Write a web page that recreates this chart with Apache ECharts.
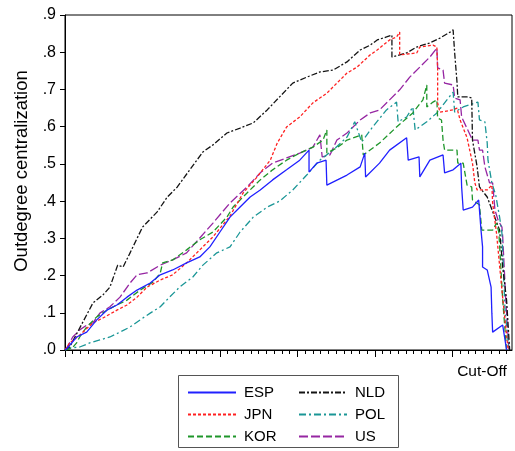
<!DOCTYPE html>
<html>
<head>
<meta charset="utf-8">
<script src="https://cdn.jsdelivr.net/npm/echarts@6/dist/echarts.min.js"></script>
<style>
html,body{margin:0;padding:0;background:#fff;}
#c{width:515px;height:451px;}
</style>
</head>
<body>
<div id="c"></div>
<script>
// ---- data (x = cut-off index, y = outdegree centralization) ----
const ESP = [[0,0],[3,.005],[15,.035],[28,.048],[41,.081],[54,.107],[67,.121],[80,.142],[93,.161],[110,.180],[123,.202],[139,.215],[157,.234],[174,.250],[187,.277],[200,.317],[213,.357],[226,.384],[239,.411],[252,.430],[268,.457],[286,.484],[303,.510],[315,.537],[315,.478],[325,.502],[337,.510],[338,.443],[364,.470],[381,.492],[387,.529],[388,.465],[406,.502],[419,.537],[441,.570],[443,.510],[457,.519],[458,.465],[471,.510],[488,.524],[490,.476],[501,.484],[511,.502],[512,.438],[514,.376],[526,.384],[534,.403],[537,.322],[539,.277],[539,.223],[545,.215],[550,.169],[551,.099],[552,.048],[565,.067],[570,0]];
const JPN = [[0,0],[6,.019],[19,.040],[36,.073],[49,.086],[67,.107],[80,.121],[93,.142],[106,.169],[123,.188],[139,.202],[157,.234],[174,.269],[191,.304],[213,.360],[230,.422],[248,.465],[265,.510],[274,.556],[286,.599],[303,.626],[320,.664],[338,.690],[351,.717],[364,.744],[377,.760],[394,.793],[403,.806],[419,.833],[428,.841],[432,.854],[432,.793],[454,.798],[458,.814],[475,.819],[480,.814],[481,.758],[481,.664],[484,.639],[501,.645],[506,.650],[510,.618],[519,.570],[526,.502],[529,.449],[532,.430],[545,.430],[551,.443],[552,.395],[557,.314],[564,.161],[572,0]];
const KOR = [[0,0],[9,.005],[15,.019],[19,.035],[28,.062],[41,.089],[54,.107],[67,.121],[80,.134],[97,.161],[114,.183],[123,.207],[126,.234],[139,.242],[157,.269],[174,.296],[191,.317],[209,.357],[217,.384],[235,.422],[252,.457],[268,.484],[286,.510],[303,.529],[320,.545],[333,.564],[338,.591],[338,.529],[351,.543],[364,.564],[383,.578],[385,.524],[406,.556],[428,.599],[449,.637],[462,.672],[467,.712],[467,.653],[475,.666],[480,.672],[481,.623],[486,.618],[488,.564],[490,.537],[506,.537],[507,.502],[514,.502],[519,.443],[525,.438],[526,.403],[535,.390],[538,.322],[552,.322],[557,.341],[560,.317],[565,.134],[570,0]];
const NLD = [[0,0],[6,.008],[36,.126],[49,.148],[58,.169],[68,.228],[75,.223],[84,.261],[100,.330],[119,.371],[132,.411],[145,.438],[161,.484],[178,.532],[191,.551],[209,.583],[226,.596],[243,.610],[261,.645],[277,.680],[294,.717],[312,.733],[329,.747],[346,.752],[364,.774],[381,.806],[394,.819],[403,.833],[415,.841],[422,.846],[422,.787],[441,.798],[454,.814],[471,.825],[484,.838],[497,.854],[501,.860],[503,.798],[506,.720],[507,.680],[519,.680],[525,.677],[526,.564],[532,.492],[535,.438],[545,.411],[561,.322],[565,.223],[570,.134],[574,0]];
const POL = [[0,0],[3,.005],[19,.008],[32,.019],[45,.027],[58,.035],[71,.048],[84,.062],[97,.081],[110,.099],[123,.116],[135,.142],[148,.169],[165,.196],[178,.228],[196,.261],[213,.277],[226,.317],[243,.357],[261,.384],[277,.400],[294,.430],[312,.470],[329,.510],[346,.537],[364,.572],[374,.613],[383,.559],[397,.599],[415,.645],[428,.666],[430,.613],[441,.626],[449,.653],[452,.591],[467,.613],[480,.637],[493,.672],[501,.693],[503,.639],[514,.653],[533,.666],[535,.618],[542,.613],[545,.556],[546,.510],[551,.449],[556,.416],[561,.357],[564,.314],[568,.107],[573,0]];
const US = [[0,0],[3,.008],[10,.035],[19,.054],[28,.067],[36,.073],[45,.099],[58,.116],[71,.142],[84,.180],[93,.202],[106,.207],[123,.228],[139,.242],[157,.261],[174,.301],[191,.341],[213,.395],[235,.438],[252,.476],[268,.502],[286,.516],[303,.529],[320,.545],[329,.578],[332,.519],[342,.524],[351,.564],[364,.583],[381,.618],[394,.637],[406,.645],[419,.672],[432,.699],[445,.733],[458,.760],[471,.787],[480,.811],[481,.758],[488,.752],[490,.717],[501,.712],[503,.677],[510,.672],[512,.626],[514,.623],[526,.564],[533,.564],[535,.537],[539,.537],[542,.492],[548,.449],[552,.449],[555,.376],[559,.349],[564,.330],[565,.304],[569,.134],[573,0]];

const yTickLabels = ['.0','.1','.2','.3','.4','.5','.6','.7','.8','.9'];
const xMajorTicks = [0,100,200,300,400,500];
const xMinorTicks = [];
for (let v = 10; v <= 570; v += 10) if (v % 100 !== 0) xMinorTicks.push(v);

const FONT = 'Liberation Sans, Arial, Helvetica, sans-serif';
const XMAX = 577;

function mk(name, data, color, dash, z) {
  return {
    name, type: 'line', data, symbol: 'none', z: z,
    xAxisIndex: 0, yAxisIndex: 0,
    lineStyle: { color, width: 1.3, type: dash },
    itemStyle: { color },
    emphasis: { disabled: true },
    animation: false
  };
}

const legendBase = {
  orient: 'vertical', top: 385, padding: 0, itemGap: 7,
  itemWidth: 48, itemHeight: 14,
  itemStyle: { opacity: 0 },
  textStyle: { fontSize: 15, color: '#000', fontFamily: FONT, padding: [0, 0, 0, 3] },
  selectedMode: false
};

const chart = echarts.init(document.getElementById('c'), null, { renderer: 'canvas' });
chart.setOption({
  backgroundColor: '#fff',
  animation: false,
  textStyle: { fontFamily: FONT },
  grid: { left: 65, top: 15, width: 447, height: 335, show: true, borderColor: '#000', borderWidth: 1, backgroundColor: 'transparent' },
  xAxis: [
    {
      type: 'value', min: 0, max: XMAX, gridIndex: 0, position: 'bottom',
      axisLine: { show: true, lineStyle: { color: '#000', width: 1 } },
      axisTick: { show: true, inside: false, length: 7, customValues: xMajorTicks, lineStyle: { color: '#000' } },
      axisLabel: { show: false },
      splitLine: { show: false },
      minorTick: { show: false }
    },
    {
      type: 'value', min: 0, max: XMAX, gridIndex: 0, position: 'bottom',
      axisLine: { show: false },
      axisTick: { show: true, inside: false, length: 4, customValues: xMinorTicks, lineStyle: { color: '#000' } },
      axisLabel: { show: false },
      splitLine: { show: false }
    }
  ],
  yAxis: {
    type: 'value', min: 0, max: 0.9, interval: 0.1,
    axisLine: { show: true, lineStyle: { color: '#000', width: 1 } },
    axisTick: { show: true, inside: false, length: 5, lineStyle: { color: '#000' } },
    axisLabel: {
      margin: 9, color: '#000', fontSize: 16, fontFamily: FONT,
      formatter: v => yTickLabels[Math.round(v * 10)]
    },
    splitLine: { show: false }
  },
  legend: [
    Object.assign({}, legendBase, { left: 187, data: ['ESP', 'JPN', 'KOR'] }),
    Object.assign({}, legendBase, { left: 298, data: ['NLD', 'POL', 'US'] })
  ],
  graphic: [
    { type: 'rect', shape: { x: 178.5, y: 375.5, width: 220, height: 72 }, style: { fill: 'none', stroke: '#555', lineWidth: 1 }, silent: true },
    { type: 'text', x: 22, y: 171, rotation: Math.PI / 2, silent: true,
      style: { text: 'Outdegree centralization', font: '18.5px ' + FONT, fill: '#000', textAlign: 'center', textVerticalAlign: 'middle' } },
    { type: 'text', x: 482, y: 372, silent: true,
      style: { text: 'Cut-Off', font: '15.5px ' + FONT, fill: '#000', textAlign: 'center', textVerticalAlign: 'middle' } }
  ],
  series: [
    mk('ESP', ESP, '#2020ff', 'solid', 6),
    mk('JPN', JPN, '#ff2020', [3, 2], 5),
    mk('KOR', KOR, '#1e962a', [6, 3], 4),
    mk('NLD', NLD, '#141414', [6, 2, 2, 2], 3),
    mk('POL', POL, '#1a9696', [7, 3, 2, 3], 2),
    mk('US', US, '#9626a2', [9, 3], 1)
  ]
});
</script>
</body>
</html>
